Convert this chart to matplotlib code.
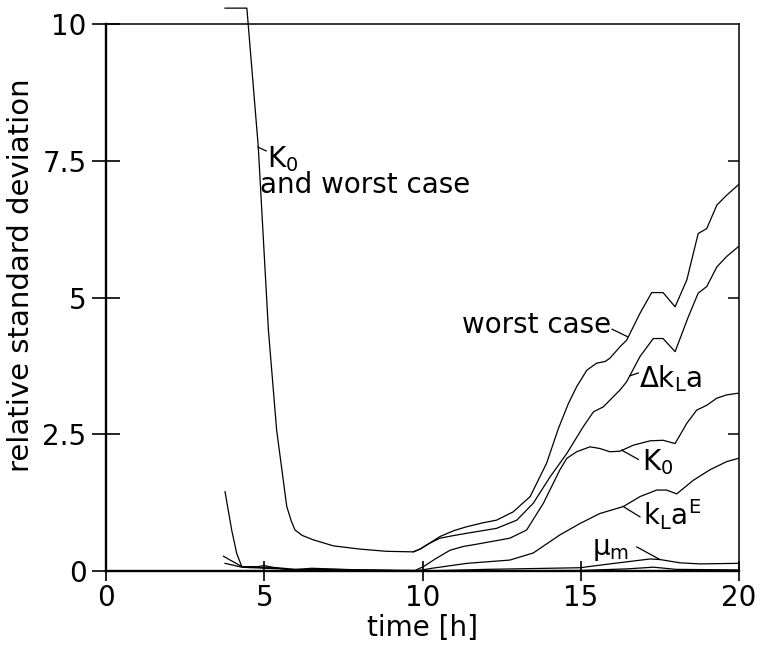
import matplotlib
matplotlib.use("Agg")
from matplotlib import pyplot as plt

# worst case, which in the first hours is the same as the K0 curve
worst_t = [3.76, 4.45, 4.81, 5.13, 5.39, 5.55, 5.71, 5.85, 5.97, 6.2, 6.55, 7.18, 8.03, 8.87,
           9.71, 9.92, 10.2, 10.55, 11.0, 11.4, 11.9, 12.34, 12.86, 13.4, 13.92, 14.29, 14.6,
           14.87, 15.19, 15.5, 15.77, 15.92, 16.24, 16.45, 16.87, 17.24, 17.6, 17.98, 18.35,
           18.71, 18.98, 19.3, 19.61, 19.98]
worst_y = [10.29, 10.29, 7.76, 4.41, 2.58, 1.88, 1.18, 0.92, 0.75, 0.65, 0.57, 0.46, 0.40, 0.36,
           0.35, 0.40, 0.50, 0.63, 0.74, 0.81, 0.88, 0.93, 1.08, 1.36, 1.97, 2.60, 3.05,
           3.37, 3.67, 3.80, 3.83, 3.89, 4.10, 4.22, 4.71, 5.09, 5.09, 4.83, 5.32,
           6.17, 6.26, 6.69, 6.87, 7.06]

dkla_t = [9.71, 9.92, 10.2, 10.55, 11.0, 11.4, 12.34, 12.98, 13.5, 14.03, 14.56, 15.08, 15.4,
          15.71, 16.24, 16.45, 16.87, 17.29, 17.6, 17.98, 18.4, 18.71, 18.98, 19.3, 19.61, 19.98]
dkla_y = [0.35, 0.40, 0.50, 0.60, 0.65, 0.69, 0.78, 0.93, 1.24, 1.72, 2.15, 2.64, 2.91,
          3.00, 3.31, 3.46, 3.92, 4.25, 4.25, 4.01, 4.65, 5.08, 5.20, 5.56, 5.75, 5.93]

k0_t = [9.8, 10.03, 10.4, 10.87, 11.3, 11.71, 12.76, 13.29, 13.82, 14.34, 14.56, 14.87, 15.29,
        15.6, 15.92, 16.24, 16.66, 17.19, 17.6, 17.98, 18.35, 18.66, 18.98, 19.3, 19.61, 19.98]
k0_y = [0.02, 0.08, 0.22, 0.38, 0.45, 0.49, 0.60, 0.75, 1.24, 1.85, 2.06, 2.18, 2.27,
        2.24, 2.18, 2.19, 2.30, 2.38, 2.39, 2.33, 2.70, 2.94, 3.03, 3.16, 3.22, 3.25]

klae_t = [9.8, 10.3, 11.4, 12.76, 13.5, 14.34, 14.98, 15.6, 16.35, 16.87, 17.4, 17.71, 18.03,
          18.56, 19.08, 19.61, 19.98]
klae_y = [0.0, 0.05, 0.14, 0.20, 0.33, 0.66, 0.87, 1.05, 1.18, 1.36, 1.48, 1.48, 1.41,
          1.66, 1.85, 2.00, 2.06]

mum_t = [10.0, 12.0, 14.98, 15.92, 17.19, 17.5, 18.13, 18.76, 19.98]
mum_y = [0.0, 0.03, 0.06, 0.13, 0.22, 0.21, 0.15, 0.13, 0.14]

# the remaining parameters, which stay close to zero
low1_t = [3.76, 3.97, 4.13, 4.29, 5.0, 5.5, 6.0, 7.0, 9.0, 10.0]
low1_y = [1.45, 0.75, 0.32, 0.08, 0.05, 0.04, 0.02, 0.03, 0.01, 0.0]
low2_t = [3.71, 4.29, 4.8, 5.0, 5.3, 5.8, 6.5, 7.0, 8.0, 10.0]
low2_y = [0.27, 0.08, 0.08, 0.10, 0.06, 0.02, 0.05, 0.04, 0.02, 0.01]
low3_t = [3.76, 4.29, 4.6, 5.2, 6.0, 7.0, 10.0]
low3_y = [0.14, 0.07, 0.06, 0.07, 0.03, 0.02, 0.0]
low4_t = [10.0, 15.0, 16.5, 17.3, 18.0, 20.0]
low4_y = [0.0, 0.01, 0.04, 0.07, 0.03, 0.02]

x_ticks = [0, 5, 10, 15, 20]
y_ticks = [0, 2.5, 5, 7.5, 10]
y_tick_labels = ["0", "2.5", "5", "7.5", "10"]
right_ticks = [2.5, 5, 7.5]

plt.rcParams['font.family'] = ['DejaVu Sans']
plt.rcParams['mathtext.fontset'] = 'dejavusans'

fig = plt.figure(figsize=(7.6, 6.54), dpi=100)
ax = fig.add_axes([0.1395, 0.1269, 0.8329, 0.8364])

lw = 0.9
ax.plot(worst_t, worst_y, color='black', lw=lw, clip_on=False)
for t, y in [(dkla_t, dkla_y), (k0_t, k0_y), (klae_t, klae_y), (mum_t, mum_y),
             (low1_t, low1_y), (low2_t, low2_y), (low3_t, low3_y), (low4_t, low4_y)]:
    ax.plot(t, y, color='black', lw=lw)

# labels with their short leader lines
fs = 20
ax.plot([4.80, 5.06], [7.75, 7.68], color='black', lw=lw)
ax.text(5.09, 7.39, "K$_0$", fontsize=fs)
ax.text(4.87, 6.91, "and worst case", fontsize=fs)

ax.plot([15.99, 16.49], [4.42, 4.28], color='black', lw=lw)
ax.text(15.96, 4.35, "worst case", fontsize=fs, ha='right')

ax.plot([16.56, 16.82], [3.57, 3.62], color='black', lw=lw)
ax.text(16.85, 3.36, r"$\Delta$k$_\mathregular{L}$a", fontsize=fs)

ax.plot([16.29, 16.82], [2.21, 2.04], color='black', lw=lw)
ax.text(16.94, 1.85, "K$_0$", fontsize=fs)

ax.plot([16.34, 16.87], [1.18, 0.99], color='black', lw=lw)
ax.text(16.97, 0.84, r"k$_\mathregular{L}$a$^\mathregular{E}$", fontsize=fs)

ax.plot([16.77, 17.5], [0.44, 0.21], color='black', lw=lw)
ax.text(15.35, 0.29, r"μ$_\mathregular{m}$", fontsize=fs)

ax.set_xlim(0, 20)
ax.set_ylim(0, 10)
ax.set_xticks(x_ticks)
ax.set_yticks(y_ticks)
ax.set_yticklabels(y_tick_labels)
ax.tick_params(axis='y', direction='inout', length=20, width=1.2, labelsize=fs, pad=4)
ax.tick_params(axis='x', direction='inout', length=14, width=1.2, labelsize=fs, pad=2)

ax.spines['left'].set_linewidth(1.7)
ax.spines['bottom'].set_linewidth(1.7)
ax.spines['top'].set_linewidth(1.1)
ax.spines['right'].set_linewidth(1.1)

# inward ticks on the right frame
ax2 = ax.twinx()
ax2.set_ylim(0, 10)
ax2.set_yticks(right_ticks)
ax2.tick_params(axis='y', direction='in', length=8, width=1.1, labelright=False)
for s in ax2.spines.values():
    s.set_visible(False)

ax.set_xlabel("time [h]", fontsize=fs, labelpad=2)
ax.set_ylabel("relative standard deviation", fontsize=21, labelpad=6)
ax.yaxis.set_label_coords(-0.112, 0.54)

fig.savefig("out.png", dpi=100)
plt.close(fig)
